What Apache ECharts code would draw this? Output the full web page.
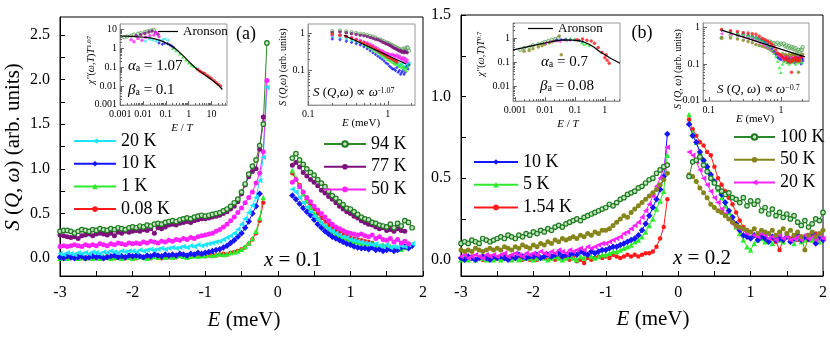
<!DOCTYPE html>
<html><head><meta charset="utf-8">
<script src="https://cdn.jsdelivr.net/npm/echarts@6/dist/echarts.min.js"></script>
<style>html,body{margin:0;padding:0;background:#fff}#c{width:830px;height:346px}</style>
</head><body><div id="c"></div><script>
const FONT = 'Liberation Serif';
// ---------- energy grids (meV) ----------
const eNeg = [-3.00,-2.95,-2.90,-2.85,-2.80,-2.75,-2.70,-2.65,-2.60,-2.55,-2.50,-2.45,-2.40,-2.35,-2.30,-2.25,-2.20,-2.15,-2.10,-2.05,-2.00,-1.95,-1.90,-1.85,-1.80,-1.75,-1.70,-1.65,-1.60,-1.55,-1.50,-1.45,-1.40,-1.35,-1.30,-1.25,-1.20,-1.15,-1.10,-1.05,-1.00,-0.95,-0.90,-0.85,-0.80,-0.75,-0.70,-0.65,-0.60,-0.55,-0.50,-0.45,-0.40,-0.35,-0.30,-0.25,-0.20,-0.15];
const ePosA = [0.20,0.25,0.30,0.35,0.40,0.45,0.50,0.55,0.60,0.65,0.70,0.75,0.80,0.85,0.90,0.95,1.00,1.05,1.10,1.15,1.20,1.25,1.30,1.35,1.40,1.45,1.50,1.55,1.60,1.65,1.70,1.75,1.80,1.85];
const ePosB = [0.15,0.20,0.25,0.30,0.35,0.40,0.45,0.50,0.55,0.60,0.65,0.70,0.75,0.80,0.85,0.90,0.95,1.00,1.05,1.10,1.15,1.20,1.25,1.30,1.35,1.40,1.45,1.50,1.55,1.60,1.65,1.70,1.75,1.80,1.85,1.90,1.95,2.00];
// ---------- panel (a), x = 0.1 ----------
const a94n = [0.30,0.31,0.31,0.30,0.28,0.30,0.32,0.31,0.30,0.32,0.31,0.33,0.32,0.31,0.33,0.32,0.34,0.33,0.32,0.34,0.35,0.34,0.36,0.35,0.37,0.36,0.38,0.39,0.38,0.40,0.41,0.42,0.41,0.43,0.44,0.45,0.44,0.46,0.47,0.48,0.47,0.48,0.49,0.50,0.51,0.53,0.55,0.58,0.62,0.66,0.74,0.83,0.94,1.03,1.10,1.26,1.50,2.41];
const a94p = [1.12,1.17,1.10,1.05,1.00,0.96,0.93,0.88,0.84,0.80,0.75,0.70,0.67,0.63,0.60,0.56,0.55,0.52,0.49,0.46,0.44,0.43,0.40,0.39,0.37,0.36,0.35,0.38,0.34,0.39,0.36,0.42,0.40,0.34];
const a77n = [0.26,0.25,0.24,0.23,0.24,0.22,0.25,0.26,0.27,0.25,0.27,0.28,0.27,0.26,0.28,0.25,0.29,0.28,0.30,0.29,0.30,0.31,0.30,0.32,0.31,0.33,0.28,0.34,0.33,0.35,0.37,0.38,0.37,0.39,0.40,0.41,0.40,0.42,0.43,0.44,0.44,0.45,0.46,0.47,0.48,0.50,0.52,0.55,0.58,0.63,0.72,0.82,0.91,0.97,1.00,1.22,1.58,null];
const a77p = [1.04,1.07,1.02,0.96,0.92,0.88,0.85,0.81,0.76,0.73,0.69,0.66,0.62,0.58,0.55,0.52,0.50,0.47,0.45,0.42,0.40,0.38,0.37,0.35,0.33,0.34,0.31,0.32,0.30,0.33,0.31,0.30,null,null];
const a50n = [0.13,0.14,0.13,0.14,0.15,0.14,0.13,0.15,0.14,0.15,0.14,0.16,0.15,0.14,0.16,0.15,0.17,0.16,0.15,0.17,0.16,0.17,0.16,0.18,0.17,0.19,0.18,0.17,0.19,0.18,0.20,0.19,0.21,0.20,0.22,0.21,0.23,0.22,0.24,0.25,0.26,0.27,0.28,0.30,0.32,0.35,0.38,0.42,0.46,0.51,0.56,0.62,0.68,0.74,0.84,0.95,1.19,1.99];
const a50p = [0.85,0.88,0.80,0.74,0.68,0.63,0.58,0.54,0.50,0.46,0.42,0.38,0.35,0.33,0.31,0.29,0.28,0.27,0.26,0.27,0.25,0.24,0.26,0.22,0.24,0.21,0.20,0.22,0.18,0.21,0.17,0.19,0.16,null];
const a20n = [0.05,0.04,0.06,0.05,0.04,0.06,0.05,0.06,0.05,0.07,0.06,0.05,0.07,0.06,0.08,0.07,0.06,0.08,0.07,0.08,0.08,0.07,0.09,0.08,0.09,0.10,0.09,0.10,0.11,0.10,0.11,0.12,0.11,0.12,0.13,0.12,0.14,0.13,0.15,0.14,0.15,0.16,0.17,0.18,0.19,0.21,0.23,0.25,0.28,0.32,0.38,0.44,0.51,0.59,0.68,0.87,1.13,1.91];
const a20p = [0.77,0.74,0.68,0.62,0.57,0.52,0.47,0.43,0.39,0.36,0.33,0.30,0.28,0.26,0.24,0.23,0.21,0.20,0.19,0.18,0.17,0.16,0.15,0.16,0.14,0.13,0.15,0.12,0.13,0.12,0.14,0.13,0.15,0.16];
const a10n = [0.01,0.00,0.02,0.01,0.00,0.01,0.02,0.00,0.01,0.02,0.01,0.02,0.00,0.01,0.02,0.03,0.01,0.02,0.01,0.03,0.02,0.03,0.02,0.01,0.03,0.02,0.04,0.03,0.02,0.04,0.03,0.04,0.03,0.05,0.04,0.03,0.05,0.04,0.06,0.05,0.06,0.07,0.08,0.09,0.10,0.12,0.14,0.17,0.20,0.24,0.28,0.34,0.41,0.50,0.58,0.72,null,null];
const a10p = [0.70,0.66,0.61,0.56,0.52,0.48,0.43,0.38,0.34,0.30,0.27,0.24,0.22,0.20,0.18,0.16,0.15,0.13,0.12,0.11,0.11,0.10,0.12,0.09,0.10,0.08,0.09,0.10,0.08,0.09,0.12,0.13,0.11,0.14];
const a1n = [0.00,0.01,0.00,0.01,0.02,0.00,0.01,0.00,0.01,0.00,0.01,0.00,0.02,0.01,0.00,0.01,0.01,0.00,0.02,0.01,0.00,0.01,0.02,0.01,0.00,0.01,0.02,0.01,0.02,0.01,0.02,0.01,0.02,0.03,0.02,0.01,0.02,0.03,0.02,0.03,0.03,0.04,0.03,0.04,0.05,0.04,0.05,0.06,0.07,0.08,0.10,0.13,0.17,0.22,0.30,0.45,0.68,null];
const a1p = [0.98,0.90,0.81,0.72,0.64,0.57,0.50,0.45,0.40,0.36,0.33,0.30,0.27,0.25,0.23,0.22,0.20,0.19,0.18,0.17,0.16,0.15,0.16,0.14,0.13,0.15,0.12,0.13,0.11,0.12,0.10,0.12,0.14,null];
const a008n = [0.01,0.00,0.01,0.00,0.01,0.02,0.00,0.01,0.00,0.01,0.00,0.01,0.00,0.02,0.01,0.00,0.01,0.02,0.00,0.01,0.01,0.00,0.02,0.01,0.01,0.00,0.02,0.01,0.00,0.02,0.01,0.02,0.01,0.03,0.02,0.01,0.02,0.03,0.02,0.03,0.02,0.03,0.04,0.03,0.04,0.05,0.04,0.06,0.07,0.08,0.10,0.12,0.16,0.21,0.28,0.42,0.62,null];
const a008p = [0.95,0.88,0.82,0.74,0.66,0.60,0.55,0.50,0.45,0.41,0.37,0.34,0.31,0.29,0.27,0.25,0.23,0.22,0.21,0.20,0.19,0.18,0.17,null,null,null,null,null,null,null,null,null,null,null];
// ---------- panel (b), x = 0.2 ----------
const b100n = [0.10,0.11,0.10,0.12,0.11,0.10,0.13,0.12,0.11,0.12,0.13,0.14,0.13,0.15,0.14,0.13,0.15,0.14,0.16,0.15,0.17,0.16,0.18,0.17,0.19,0.18,0.20,0.21,0.20,0.22,0.23,0.24,0.25,0.24,0.26,0.27,0.28,0.29,0.30,0.31,0.32,0.34,0.33,0.35,0.37,0.38,0.40,0.41,0.42,0.44,0.45,0.47,0.49,0.50,0.53,0.55,0.57,0.58];
const b100p = [0.51,0.60,0.61,0.63,0.58,0.54,0.50,0.47,0.44,0.42,0.40,0.41,0.38,0.37,0.35,0.38,0.33,0.36,0.34,0.36,0.30,0.32,0.28,0.31,0.27,0.29,0.26,0.28,0.25,0.27,0.23,0.21,0.24,0.20,0.22,0.25,0.24,0.29];
const b50n = [0.06,0.05,0.06,0.05,0.07,0.06,0.05,0.06,0.07,0.06,0.07,0.06,0.08,0.07,0.06,0.08,0.07,0.09,0.08,0.07,0.09,0.08,0.10,0.09,0.11,0.10,0.12,0.11,0.13,0.12,0.13,0.14,0.13,0.15,0.14,0.16,0.15,0.17,0.16,0.18,0.18,0.19,0.21,0.23,0.25,0.27,0.26,0.29,0.31,0.33,0.35,0.37,0.39,0.41,0.43,0.46,0.49,0.53];
const b50p = [0.52,0.51,0.48,0.44,0.41,0.38,0.34,0.32,0.30,0.29,0.27,0.25,0.23,0.21,0.20,0.19,0.18,0.17,0.19,0.16,0.18,0.17,0.16,0.18,0.15,0.17,0.19,0.16,0.18,0.15,0.17,0.14,0.06,0.15,0.17,0.14,0.16,0.18];
const b20n = [0.02,0.03,0.01,0.02,0.03,0.02,0.01,0.03,0.02,0.03,0.02,0.03,0.04,0.02,0.03,0.04,0.03,0.02,0.04,0.03,0.04,0.03,0.05,0.04,0.03,0.05,0.04,0.06,0.05,0.04,0.06,0.05,0.06,0.07,0.06,0.08,0.07,0.08,0.09,0.10,0.10,0.11,0.12,0.13,0.14,0.16,0.17,0.19,0.21,0.23,0.26,0.30,0.34,0.39,0.45,0.50,0.56,0.69];
const b20p = [0.66,0.64,0.60,0.55,0.50,0.46,0.42,0.38,0.35,0.31,0.28,0.25,0.22,0.20,0.19,0.18,0.16,0.17,0.15,0.14,0.16,0.15,0.13,0.14,0.12,0.15,0.13,0.14,0.12,0.13,0.14,0.12,0.15,0.13,0.14,0.12,0.15,0.13];
const b10n = [0.01,0.00,0.02,0.01,0.00,0.01,0.02,0.01,0.00,0.02,0.01,0.02,0.01,0.00,0.02,0.01,0.03,0.02,0.01,0.02,0.02,0.03,0.01,0.02,0.03,0.02,0.03,0.04,0.02,0.03,0.03,0.04,0.03,0.05,0.04,0.03,0.05,0.04,0.05,0.06,0.06,0.07,0.08,0.08,0.09,0.10,0.11,0.12,0.13,0.15,0.18,0.22,0.27,0.32,0.37,0.43,0.51,0.77];
const b10p = [0.83,0.76,0.72,0.66,0.61,0.57,0.52,0.48,0.44,0.40,0.35,0.30,0.26,0.22,0.18,0.15,0.14,0.13,0.15,0.12,0.14,0.13,0.11,0.14,0.12,0.13,0.12,0.14,0.11,0.13,0.15,0.12,0.14,0.13,0.16,0.10,0.14,0.12];
const b5n = [0.00,0.01,0.00,0.01,0.00,0.02,0.01,0.00,0.01,0.00,0.01,0.00,0.01,0.02,0.00,0.01,0.00,0.01,0.02,0.01,0.00,0.01,0.02,0.01,0.00,0.01,0.02,0.01,0.00,0.01,0.02,0.01,0.00,0.02,0.01,0.03,0.02,0.01,0.02,0.03,0.03,0.04,0.05,0.05,0.06,0.07,0.08,0.09,0.11,0.12,0.14,0.17,0.21,0.25,0.31,0.36,0.42,0.64];
const b5p = [0.89,0.78,0.72,0.66,0.61,0.58,0.53,0.48,0.43,0.38,0.33,0.29,0.24,0.20,0.16,0.12,0.08,0.06,0.10,0.12,0.13,0.11,0.12,0.10,0.13,0.12,0.11,0.14,0.12,0.10,0.13,0.11,0.12,0.14,0.12,0.13,0.11,null];
const b154n = [0.01,0.00,0.01,0.02,0.00,0.01,0.00,0.01,0.02,0.00,0.01,0.00,0.02,0.01,0.00,0.01,0.02,0.00,0.01,0.00,0.01,0.00,0.01,0.02,0.00,0.01,0.00,0.01,0.02,0.01,0.00,0.01,-0.01,0.00,-0.02,0.01,0.00,0.01,0.02,0.01,0.02,0.01,0.03,0.02,0.01,0.02,0.03,0.02,0.03,0.02,0.03,0.04,0.04,0.05,0.08,0.13,0.20,0.37];
const b154p = [0.86,0.80,0.76,0.72,0.70,0.66,0.64,0.57,0.50,0.46,0.42,0.38,0.34,0.29,0.24,0.20,0.18,0.17,0.15,0.14,0.13,0.15,0.12,0.13,0.11,0.06,0.12,0.14,0.13,0.15,0.12,0.14,0.13,0.12,0.15,0.16,null,null];
// ---------- insets: E/T scaling (x: E/T, y: chi'' T^alpha) ----------
const sA94 = [[0.0015,3.8],[0.002,4.2],[0.003,4.6],[0.004,5.2],[0.006,5.8],[0.008,6.3],[0.012,7.1],[0.016,7.8],[0.022,8.6],[0.03,9.5]];
const sA77 = [[0.005,4.5],[0.008,5.2],[0.012,6.0],[0.018,7.2],[0.025,8.0],[0.035,6.8],[0.045,5.5]];
const sA50 = [[0.003,2.8],[0.004,2.2],[0.006,3.2],[0.009,2.6],[0.013,3.8],[0.02,4.5],[0.03,5.0],[0.04,6.5],[0.05,4.0]];
const sA20 = [[0.012,2.4],[0.018,3.0],[0.025,2.7],[0.035,2.3],[0.05,2.5],[0.07,2.9],[0.09,3.1],[0.12,2.6]];
const sA10 = [[0.05,1.9],[0.07,1.6],[0.09,1.8],[0.12,1.7],[0.15,1.5],[0.18,1.3],[0.22,1.1]];
const sA1 = [[0.2,1.0],[0.28,0.75],[0.4,0.5],[0.55,0.34],[0.75,0.24],[1.0,0.17],[1.3,0.13],[1.7,0.11],[2.2,0.09]];
const sA008 = [[2.5,0.075],[3.2,0.06],[4,0.05],[5,0.045],[6.5,0.036],[8,0.03],[10,0.025],[13,0.019],[16,0.015],[20,0.012],[25,0.01]];
const aronA = [[0.001,4.4],[0.003,4.2],[0.008,3.9],[0.015,3.7],[0.03,3.2],[0.06,2.5],[0.1,1.9],[0.18,1.3],[0.31,0.8],[0.6,0.38],[1.15,0.17],[2,0.09],[3.1,0.059],[6,0.034],[11.7,0.019],[20,0.011],[30,0.0065]];
const sB100 = [[0.0015,0.32],[0.002,0.38],[0.003,0.42],[0.004,0.5],[0.006,0.55],[0.008,0.6],[0.01,0.68],[0.013,0.75],[0.017,0.85],[0.022,0.9],[0.028,1.0]];
const sB50 = [[0.002,0.28],[0.003,0.3],[0.004,0.36],[0.006,0.42],[0.008,0.48],[0.01,0.55],[0.014,0.62],[0.018,0.7],[0.024,0.8],[0.03,1.2],[0.035,0.2]];
const sB20 = [[0.01,0.6],[0.015,0.7],[0.02,0.75],[0.03,0.72],[0.04,0.82],[0.05,0.78],[0.065,0.8]];
const sB10 = [[0.025,0.8],[0.035,0.85],[0.05,0.88],[0.07,0.86],[0.1,0.82],[0.14,0.78],[0.18,0.7]];
const sB5 = [[0.05,0.9],[0.07,0.95],[0.1,0.9],[0.13,0.8],[0.17,0.65],[0.2,0.55],[0.25,0.6],[0.3,0.5]];
const sB154 = [[0.12,0.85],[0.18,0.9],[0.25,0.8],[0.35,0.75],[0.45,0.6],[0.6,0.4],[0.8,0.25],[1.0,0.15],[1.1,0.2],[1.2,0.12],[1.4,0.09]];
const aronB = [[0.00086,0.32],[0.002,0.4],[0.005,0.52],[0.01,0.62],[0.02,0.74],[0.041,0.83],[0.08,0.82],[0.13,0.78],[0.19,0.70],[0.3,0.55],[0.45,0.4],[0.68,0.27],[1.0,0.2],[1.6,0.14],[3.2,0.089]];
const plawA = [[0.28,0.88],[1.7,0.15]];
const plawB = [[0.15,0.83],[2.15,0.157]];
// ---------- ticks ----------
const xMainTicks = [-3,-2.5,-2,-1.5,-1,-0.5,0,0.5,1,1.5,2];
const xMainLabels = [-3,-2,-1,0,1,2];
const yATicks = [0,0.25,0.5,0.75,1,1.25,1.5,1.75,2,2.25,2.5];
const yALabels = [0,0.5,1,1.5,2,2.5];
const yBTicks = [0,0.25,0.5,0.75,1,1.25,1.5];
const yBLabels = [0,0.5,1,1.5];
const decades = [0.001,0.01,0.1,1,10];
const minorOf = (lo, hi) => decades.flatMap(d => [2,3,4,5,6,7,8,9].map(k => +(k*d).toPrecision(3))).filter(v => v > lo && v < hi);

const NAMES = {a20:'20 K',a10:'10 K',a1:'1 K',a008:'0.08 K',a94:'94 K',a77:'77 K',a50:'50 K',
  b10:'10 K',b5:'5 K',b154:'1.54 K',b100:'100 K',b50:'50 K',b20:'20 K',aronA:'Aronson',aronB:'Aronson'};

const ST = {
  cyan:{color:'#1ae4ff',symbol:'triangle',size:5.5,rot:90},
  blue:{color:'#1414ff',symbol:'diamond',size:6.5},
  lime:{color:'#2eea2e',symbol:'triangle',size:5.5},
  red:{color:'#ff1a1a',symbol:'circle',size:4.5},
  dkg:{color:'#bfe6bf',border:'#1f7a1f',line:'#2a8a2a',symbol:'circle',size:4.5},
  purple:{color:'#7d117d',symbol:'circle',size:5},
  mag:{color:'#ff22ff',symbol:'circle',size:5},
  olive:{color:'#85851a',symbol:'circle',size:5},
  magTri:{color:'#ff22ff',symbol:'triangle',size:5.5,rot:90}
};

function pairs(xs, ys){ const o=[]; for(let i=0;i<xs.length;i++){ if(ys[i]!=null) o.push([xs[i],ys[i]]); } return o; }
function mainLine(name, ax, eN, vN, eP, vP, st){
  return {name, type:'line', xAxisIndex:ax, yAxisIndex:ax,
    data: pairs(eN,vN).concat([[0,null]], pairs(eP,vP)),
    symbol:st.symbol, symbolSize:st.size, symbolRotate:st.rot||0, showSymbol:true, connectNulls:false,
    lineStyle:{color:st.line||st.color, width:1},
    itemStyle:{color:st.color, borderColor:st.border||st.color, borderWidth:st.border?1.2:0},
    z:3};
}
function insetPts(ax, data, st, size){
  return {type:'scatter', xAxisIndex:ax, yAxisIndex:ax, data, symbol:st.symbol, symbolSize:size||3.5,
    symbolRotate:st.rot||0, itemStyle:{color:st.color, borderColor:st.border||st.color, borderWidth:st.border?0.6:0}, z:6};
}
function blackLine(name, ax, data){
  return {name, type:'line', xAxisIndex:ax, yAxisIndex:ax, data, symbol:'none', lineStyle:{color:'#000', width:1.2}, itemStyle:{color:'#000'}, z:7};
}
const labFmt = v => v >= 1 ? String(Math.round(v)) : String(+v.toPrecision(1));
function mainX(grid){
  return {type:'value', gridIndex:grid, min:-3, max:2,
    axisLine:{show:true,onZero:false,lineStyle:{color:'#000'}},
    axisTick:{show:true,inside:true,length:5,customValues:xMainTicks,lineStyle:{color:'#000'}},
    axisLabel:{customValues:xMainLabels,color:'#000',fontFamily:FONT,fontSize:16,margin:9,formatter:v=>String(v)},
    splitLine:{show:false}};
}
function mainY(grid,min,max,ticks,labels){
  return {type:'value', gridIndex:grid, min, max,
    axisLine:{show:true,onZero:false,lineStyle:{color:'#000'}},
    axisTick:{show:true,inside:true,length:5,customValues:ticks,lineStyle:{color:'#000'}},
    axisLabel:{customValues:labels,color:'#000',fontFamily:FONT,fontSize:16,margin:10,formatter:v=>v.toFixed(1)},
    splitLine:{show:false}};
}
function logAx(dim, grid, min, max, vals, minor){
  return {type:'log', gridIndex:grid, min, max, position: dim==='x'?'bottom':'left',
    axisLine:{show:!minor,onZero:false,lineStyle:{color:'#999'}},
    axisTick:{show:true,inside:true,length:minor?2:4,customValues:vals,lineStyle:{color:'#666'}},
    axisLabel:{show:!minor,customValues:vals,color:'#000',fontFamily:FONT,fontSize:10,margin:dim==='x'?4:3,formatter:labFmt},
    splitLine:{show:false}, minorTick:{show:false}};
}
// inset axis ranges
const IN = {
  aL:{x:[0.00098,48], y:[0.00098,19], xl:[0.001,0.01,0.1,1,10], yl:[0.001,0.01,0.1,1,10]},
  aR:{x:[0.099,2.2], y:[0.012,1.75], xl:[0.1,1], yl:[0.1,1]},
  bL:{x:[0.00086,3.2], y:[0.0024,4.2], xl:[0.001,0.01,0.1,1], yl:[0.01,0.1,1]},
  bR:{x:[0.083,2.45], y:[0.0099,1.3], xl:[0.1,1], yl:[0.01,0.1,1]}
};
const xAxes = [mainX(0), mainX(1)], yAxes = [mainY(0,-0.2,2.7,yATicks,yALabels), mainY(1,-0.1,1.5,yBTicks,yBLabels)];
['aL','aR','bL','bR'].forEach((k,i) => {
  const g = 2+i, c = IN[k];
  xAxes.push(logAx('x',g,c.x[0],c.x[1],c.xl,false)); xAxes.push(logAx('x',g,c.x[0],c.x[1],minorOf(c.x[0],c.x[1]),true));
  yAxes.push(logAx('y',g,c.y[0],c.y[1],c.yl,false)); yAxes.push(logAx('y',g,c.y[0],c.y[1],minorOf(c.y[0],c.y[1]),true));
});
// axis indexes: main a 0, main b 1, aL 2, aR 4, bL 6, bR 8
const series = [
  mainLine('a008',0,eNeg,a008n,ePosA,a008p,ST.red),
  mainLine('a1',0,eNeg,a1n,ePosA,a1p,ST.lime),
  mainLine('a10',0,eNeg,a10n,ePosA,a10p,ST.blue),
  mainLine('a20',0,eNeg,a20n,ePosA,a20p,ST.cyan),
  mainLine('a50',0,eNeg,a50n,ePosA,a50p,ST.mag),
  mainLine('a77',0,eNeg,a77n,ePosA,a77p,ST.purple),
  mainLine('a94',0,eNeg,a94n,ePosA,a94p,ST.dkg),
  mainLine('b154',1,eNeg,b154n,ePosB,b154p,ST.red),
  mainLine('b5',1,eNeg,b5n,ePosB,b5p,ST.lime),
  mainLine('b10',1,eNeg,b10n,ePosB,b10p,ST.blue),
  mainLine('b20',1,eNeg,b20n,ePosB,b20p,ST.magTri),
  mainLine('b50',1,eNeg,b50n,ePosB,b50p,ST.olive),
  mainLine('b100',1,eNeg,b100n,ePosB,b100p,ST.dkg),
  // inset a left
  insetPts(2,sA94,ST.dkg),insetPts(2,sA77,ST.purple),insetPts(2,sA50,ST.mag),insetPts(2,sA20,ST.cyan),
  insetPts(2,sA10,ST.blue),insetPts(2,sA1,ST.lime),insetPts(2,sA008,ST.red),
  blackLine('aronA',2,aronA),
  // inset a right
  insetPts(4,pairs(ePosA,a94p),ST.dkg),insetPts(4,pairs(ePosA,a77p),ST.purple),insetPts(4,pairs(ePosA,a50p),ST.mag),
  insetPts(4,pairs(ePosA,a20p),ST.cyan),insetPts(4,pairs(ePosA,a10p),ST.blue),insetPts(4,pairs(ePosA,a1p),ST.lime),
  insetPts(4,pairs(ePosA,a008p),ST.red),
  blackLine('plawA',4,plawA),
  // inset b left
  insetPts(6,sB100,ST.dkg),insetPts(6,sB50,ST.olive),insetPts(6,sB20,ST.magTri),insetPts(6,sB10,ST.blue),
  insetPts(6,sB5,ST.lime),insetPts(6,sB154,ST.red),
  blackLine('aronB',6,aronB),
  // inset b right
  insetPts(8,pairs(ePosB,b100p),ST.dkg),insetPts(8,pairs(ePosB,b50p),ST.olive),insetPts(8,pairs(ePosB,b20p),ST.magTri),
  insetPts(8,pairs(ePosB,b10p),ST.blue),insetPts(8,pairs(ePosB,b5p),ST.lime),insetPts(8,pairs(ePosB,b154p),ST.red),
  blackLine('plawB',8,plawB)
];
function lg(data,left,top,w,fs,h){
  return {data, orient:'vertical', left, top, itemWidth:w, itemHeight:h||7, itemGap:fs>15?4.7:0, padding:0,
    selectedMode:false, formatter:n=>NAMES[n],
    textStyle:{fontFamily:FONT,fontSize:fs,color:'#000',lineHeight:fs}};
}
function lgLine(name,left,top,w){
  return {data:[{name, icon:'rect'}], orient:'vertical', left, top, itemWidth:w, itemHeight:1.2, padding:0,
    selectedMode:false, formatter:n=>NAMES[n], itemStyle:{color:'#000'},
    textStyle:{fontFamily:FONT,fontSize:13,color:'#000',lineHeight:13}};
}
const R = s => ({
  i:{fontFamily:FONT,fontSize:s,fontStyle:'italic',fill:'#000'},
  n:{fontFamily:FONT,fontSize:s,fill:'#000'},
  sub:{fontFamily:FONT,fontSize:Math.round(s*0.65),fill:'#000',verticalAlign:'bottom'},
  sup:{fontFamily:FONT,fontSize:Math.round(s*0.65),fill:'#000',verticalAlign:'top'}
});
function T(x,y,text,s,o){
  o=o||{};
  return {type:'text', x, y, rotation:o.rot||0, z:100,
    style:{text, fontFamily:FONT, fontSize:s, fill:'#000', align:o.align||'center', verticalAlign:'middle', rich:R(s)}};
}
const graphics = [
  T(13,147,'{i|S} ({i|Q}, {i|ω}) (arb. units)',21,{rot:Math.PI/2}),
  T(244,320,'{i|E} (meV)',21), T(653,319,'{i|E} (meV)',21),
  T(246,34,'(a)',18), T(642,33,'(b)',18),
  T(293,260,'{i|x} = 0.1',21), T(702,258,'{i|x} = 0.2',21),
  T(128,66,'{i|α}{sub|a} = 1.07',15,{align:'left'}), T(128,90,'{i|β}{sub|a} = 0.1',15,{align:'left'}),
  T(541,62,'{i|α}{sub|a} = 0.7',15,{align:'left'}), T(540,86,'{i|β}{sub|a} = 0.08',15,{align:'left'}),
  T(91,60,"{i|χ''}({i|ω},{i|T}){i|T}{sup|1.07}",10,{rot:Math.PI/2}),
  T(182,128,'{i|E} / {i|T}',11),
  T(283,67,'{i|S} ({i|Q},{i|ω}) (arb. units)',10,{rot:Math.PI/2}),
  T(361,123,'{i|E} (meV)',11),
  T(313,93,'{i|S} ({i|Q},{i|ω}) ∝ {i|ω}{sup|-1.07}',13,{align:'left'}),
  T(481,54,"{i|χ''}({i|ω},{i|T}){i|T}{sup|0.7}",10,{rot:Math.PI/2}),
  T(568,124,'{i|E} / {i|T}',11),
  T(678,69,'{i|S} ({i|Q}, {i|ω}) (arb. units)',10,{rot:Math.PI/2}),
  T(755,119,'{i|E} (meV)',11),
  T(717,90,'{i|S} ({i|Q}, {i|ω}) ∝ {i|ω}{sup|−0.7}',13,{align:'left'})
];
const chart = echarts.init(document.getElementById('c'), null, {renderer:'canvas'});
chart.setOption({
  animation:false,
  backgroundColor:'#fff',
  textStyle:{fontFamily:FONT},
  grid:[
    {left:60,top:17,width:363,height:259,show:true,borderColor:'#000',borderWidth:1,backgroundColor:'transparent'},
    {left:461,top:15,width:364,height:261,show:true,borderColor:'#000',borderWidth:1,backgroundColor:'transparent'},
    {left:120,top:24,width:107,height:81,show:true,borderColor:'#999',borderWidth:1,backgroundColor:'#fff'},
    {left:308,top:24,width:107,height:81,show:true,borderColor:'#999',borderWidth:1,backgroundColor:'#fff'},
    {left:513,top:23,width:107,height:78,show:true,borderColor:'#999',borderWidth:1,backgroundColor:'#fff'},
    {left:703,top:23,width:106,height:78,show:true,borderColor:'#999',borderWidth:1,backgroundColor:'#fff'}
  ],
  xAxis:xAxes, yAxis:yAxes,
  legend:[
    lg(['a20','a10','a1','a008'],73,132,42,18),
    lg(['a94','a77','a50'],323,135,42,18),
    lg(['b10','b5','b154'],473,153,44,18),
    lg(['b100','b50','b20'],733,128,41,18),
    lgLine('aronA',158,25,20),
    lgLine('aronB',528,22,25)
  ],
  series, graphic:graphics
});
</script></body></html>
